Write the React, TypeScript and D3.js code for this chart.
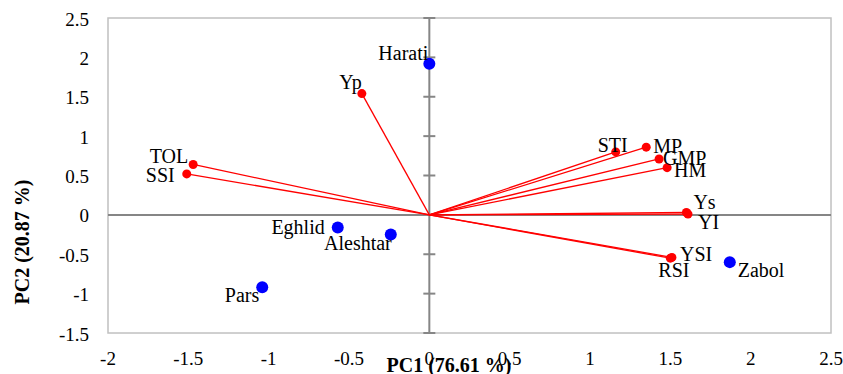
import * as d3 from "d3";

const xTicks = [-2, -1.5, -1, -0.5, 0, 0.5, 1, 1.5, 2, 2.5];
const yTicks = [-1.5, -1, -0.5, 0, 0.5, 1, 1.5, 2, 2.5];

const genotypes = ["Harati", "Eghlid", "Aleshtar", "Pars", "Zabol"];
const genoPC1 = [0, -0.57, -0.24, -1.04, 1.87];
const genoPC2 = [1.92, -0.16, -0.25, -0.92, -0.6];

const traits = ["TOL", "SSI", "Yp", "STI", "MP", "GMP", "HM", "Ys", "YI", "YSI", "RSI"];
const traitPC1 = [-1.47, -1.51, -0.42, 1.16, 1.35, 1.43, 1.48, 1.6, 1.61, 1.51, 1.5];
const traitPC2 = [0.64, 0.52, 1.54, 0.8, 0.86, 0.71, 0.6, 0.03, 0.01, -0.54, -0.55];

// label placement relative to the marker (pixels)
const labelPos: Record<string, { dx: number; dy: number; anchor: string }> = {
  Harati: { dx: -1, dy: -4, anchor: "end" },
  Eghlid: { dx: -13, dy: 7, anchor: "end" },
  Aleshtar: { dx: 1, dy: 15, anchor: "end" },
  Pars: { dx: -3, dy: 15, anchor: "end" },
  Zabol: { dx: 8, dy: 15, anchor: "start" },
  TOL: { dx: -5, dy: -1, anchor: "end" },
  SSI: { dx: -12, dy: 8, anchor: "end" },
  Yp: { dx: 0, dy: -5, anchor: "end" },
  STI: { dx: -18, dy: 0, anchor: "start" },
  MP: { dx: 7, dy: 6, anchor: "start" },
  GMP: { dx: 4, dy: 6, anchor: "start" },
  HM: { dx: 7, dy: 9, anchor: "start" },
  Ys: { dx: 7, dy: -4, anchor: "start" },
  YI: { dx: 10, dy: 15, anchor: "start" },
  YSI: { dx: 8, dy: 4, anchor: "start" },
  RSI: { dx: -12, dy: 19, anchor: "start" },
};

const W = 843;
const H = 374;
const plot = { left: 108, right: 831, top: 18, bottom: 333 };
const font = "'Liberation Serif', 'Times New Roman', serif";

const App = () => {
  const x = d3.scaleLinear().domain([-2, 2.5]).range([plot.left, plot.right]);
  const y = d3.scaleLinear().domain([-1.5, 2.5]).range([plot.bottom, plot.top]);
  const x0 = x(0);
  const y0 = y(0);

  return (
    <svg
      width={W}
      height={H}
      viewBox={`0 0 ${W} ${H}`}
      style={{ position: "absolute", left: 0, top: 0, display: "block", background: "#fff" }}
      fontFamily={font}
    >
      {/* plot frame */}
      <rect
        x={plot.left}
        y={plot.top}
        width={plot.right - plot.left}
        height={plot.bottom - plot.top}
        fill="none"
        stroke="#c0c0c0"
        strokeWidth={1.5}
      />

      {/* axes through origin */}
      <line x1={plot.left} x2={plot.right} y1={y0} y2={y0} stroke="#868686" strokeWidth={2} />
      <line x1={x0} x2={x0} y1={plot.top} y2={plot.bottom} stroke="#868686" strokeWidth={2} />
      {yTicks.map((t) => (
        <line key={"yt" + t} x1={x0 - 6} x2={x0 + 6} y1={y(t)} y2={y(t)} stroke="#868686" strokeWidth={2} />
      ))}

      {/* tick labels */}
      {yTicks.map((t) => (
        <text key={"yl" + t} x={89} y={y(t) + 7.5} textAnchor="end" fontSize={19} fill="#000">
          {t}
        </text>
      ))}
      {xTicks.map((t) => (
        <text key={"xl" + t} x={x(t)} y={365} textAnchor="middle" fontSize={19} fill="#000">
          {t}
        </text>
      ))}

      {/* axis titles */}
      <text x={449} y={372} textAnchor="middle" fontSize={20} fontWeight="bold">
        PC1 (76.61 %)
      </text>
      <text
        transform={`translate(29,242) rotate(-90)`}
        textAnchor="middle"
        fontSize={20}
        fontWeight="bold"
      >
        PC2 (20.87 %)
      </text>

      {/* trait vectors */}
      {traits.map((name, i) => (
        <line
          key={"v" + name}
          x1={x0}
          y1={y0}
          x2={x(traitPC1[i])}
          y2={y(traitPC2[i])}
          stroke="#ff0000"
          strokeWidth={1.3}
        />
      ))}
      {traits.map((name, i) => (
        <circle key={"c" + name} cx={x(traitPC1[i])} cy={y(traitPC2[i])} r={4.5} fill="#ff0000" />
      ))}

      {/* genotypes */}
      {genotypes.map((name, i) => (
        <circle key={"g" + name} cx={x(genoPC1[i])} cy={y(genoPC2[i])} r={6} fill="#0000ff" />
      ))}

      {/* labels */}
      {genotypes.map((name, i) => {
        const p = labelPos[name];
        return (
          <text
            key={"gl" + name}
            x={x(genoPC1[i]) + p.dx}
            y={y(genoPC2[i]) + p.dy}
            textAnchor={p.anchor}
            fontSize={20}
            fill="#000"
          >
            {name}
          </text>
        );
      })}
      {traits.map((name, i) => {
        const p = labelPos[name];
        return (
          <text
            key={"tl" + name}
            x={x(traitPC1[i]) + p.dx}
            y={y(traitPC2[i]) + p.dy}
            textAnchor={p.anchor}
            fontSize={20}
            fill="#000"
          >
            {name}
          </text>
        );
      })}
    </svg>
  );
};

export default App;
